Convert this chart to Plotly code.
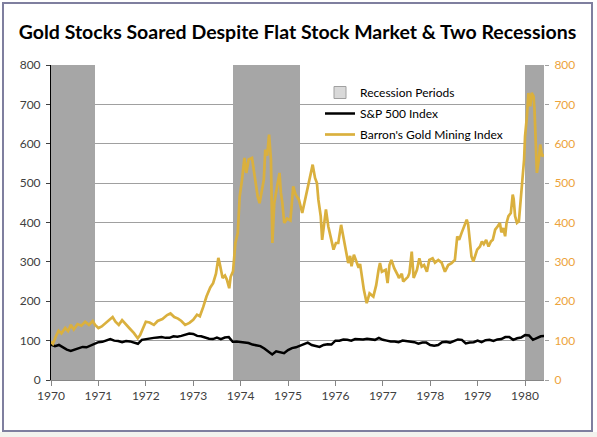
import plotly.graph_objects as go

# ---------------- data ----------------
tick_years = [1970, 1971, 1972, 1973, 1974, 1975, 1976, 1977, 1978, 1979, 1980]

recession_start = [1969.95, 1973.83, 1980.0]
recession_end = [1970.92, 1975.25, 1980.45]

gold_x = [
    1970.00, 1970.04, 1970.10, 1970.16, 1970.22, 1970.30, 1970.36, 1970.42, 1970.48, 1970.56,
    1970.64, 1970.72, 1970.80, 1970.88, 1970.93, 1971.00, 1971.07, 1971.15, 1971.23, 1971.30,
    1971.36, 1971.43, 1971.50, 1971.56, 1971.65, 1971.75, 1971.83, 1971.88, 1971.93, 1972.00,
    1972.08, 1972.17, 1972.25, 1972.35, 1972.45, 1972.52, 1972.60, 1972.68, 1972.75, 1972.83,
    1972.92, 1973.00, 1973.08, 1973.14, 1973.21, 1973.28, 1973.36, 1973.42, 1973.48, 1973.53,
    1973.56, 1973.62, 1973.67, 1973.71, 1973.76, 1973.79, 1973.84, 1973.89, 1973.94, 1973.98,
    1974.03, 1974.08, 1974.12, 1974.17, 1974.24, 1974.29, 1974.36, 1974.40, 1974.45, 1974.49,
    1974.52, 1974.56, 1974.60, 1974.64, 1974.67, 1974.71, 1974.77, 1974.82, 1974.85, 1974.88,
    1974.92, 1974.98, 1975.05, 1975.11, 1975.16, 1975.23, 1975.30, 1975.37, 1975.46, 1975.52,
    1975.57, 1975.61, 1975.64, 1975.69, 1975.72, 1975.76, 1975.80, 1975.85, 1975.90, 1975.96,
    1976.01, 1976.06, 1976.12, 1976.17, 1976.22, 1976.27, 1976.31, 1976.34, 1976.39, 1976.45,
    1976.49, 1976.52, 1976.56, 1976.60, 1976.66, 1976.72, 1976.80, 1976.86, 1976.91, 1976.94,
    1976.98, 1977.06, 1977.10, 1977.14, 1977.18, 1977.24, 1977.32, 1977.34, 1977.40, 1977.43,
    1977.53, 1977.56, 1977.61, 1977.65, 1977.72, 1977.77, 1977.82, 1977.87, 1977.93, 1977.98,
    1978.05, 1978.10, 1978.17, 1978.24, 1978.31, 1978.38, 1978.45, 1978.52, 1978.57, 1978.61,
    1978.66, 1978.71, 1978.77, 1978.80, 1978.84, 1978.87, 1978.91, 1978.95, 1978.99, 1979.05,
    1979.09, 1979.13, 1979.18, 1979.23, 1979.28, 1979.32, 1979.37, 1979.42, 1979.47, 1979.50,
    1979.54, 1979.58, 1979.61, 1979.65, 1979.70, 1979.74, 1979.76, 1979.79, 1979.83, 1979.87,
    1979.91, 1979.95, 1979.98, 1980.00, 1980.04, 1980.07, 1980.11, 1980.14, 1980.18, 1980.20,
    1980.23, 1980.25, 1980.29, 1980.32, 1980.36, 1980.40,
]
gold_values = [
    97, 92, 110, 125, 118, 132, 124, 140, 128, 142,
    138, 148, 140, 150, 140, 132, 136, 145, 152, 160,
    148, 140, 152, 145, 132, 119, 106, 114, 130, 148,
    146, 140, 150, 155, 165, 169, 160, 156, 150, 140,
    145, 153, 166, 162, 185, 212, 235, 246, 270, 310,
    295, 259, 265, 255, 233, 262, 276, 348, 373, 466,
    509, 564, 526, 560, 564, 517, 466, 449, 479, 509,
    585, 570, 623, 560, 348, 449, 492, 526, 475, 450,
    399, 410, 405, 492, 471, 458, 424, 466, 517, 547,
    513, 500, 458, 416, 356, 390, 433, 390, 365, 331,
    348, 348, 394, 360, 331, 297, 315, 289, 318, 297,
    285, 295, 262, 229, 195, 220, 212, 241, 280, 297,
    275, 280, 246, 292, 305, 284, 265, 259, 270, 250,
    262, 271, 326, 259, 280, 309, 288, 292, 275, 305,
    309, 298, 305, 298, 275, 292, 297, 305, 365, 356,
    373, 390, 407, 395, 339, 314, 301, 314, 331, 339,
    352, 345, 356, 339, 352, 356, 382, 390, 399, 375,
    386, 365, 399, 416, 424, 471, 460, 416, 399, 403,
    458, 500, 560, 619, 670, 729, 695, 729, 720, 686,
    610, 526, 560, 598, 568, 573,
]

# S&P 500, monthly from Jan 1970
sp500_values = [
    90, 86, 89, 82, 77, 74, 78, 81, 84, 83, 87, 92,
    96, 97, 100, 104, 100, 99, 96, 99, 98, 94, 92, 102,
    104, 106, 107, 108, 109, 107, 107, 111, 110, 112, 116, 118,
    117, 112, 111, 107, 105, 104, 108, 104, 108, 109, 97, 98,
    97, 96, 94, 90, 87, 86, 80, 73, 65, 73, 70, 68,
    76, 81, 83, 87, 91, 95, 89, 87, 84, 89, 91, 90,
    100, 100, 103, 102, 100, 104, 103, 103, 105, 103, 102, 107,
    102, 100, 98, 98, 96, 100, 99, 97, 96, 92, 95, 95,
    89, 87, 89, 96, 97, 95, 100, 103, 102, 93, 95, 96,
    100, 96, 101, 102, 99, 103, 104, 109, 109, 102, 106, 108,
    114, 113, 102, 106, 111, 112,
]
sp500_x = [1970 + i / 12 for i in range(len(sp500_values))]

# ---------------- styling ----------------
W, H = 597, 437
L, R, T, B = 51, 544, 65, 380  # plot area in pixels
GOLD = "#DAB03E"
ORANGE = "#EDA33B"
GRAY_BAND = "#A6A6A6"
FONT = "Lato"

fig = go.Figure()

fig.add_trace(go.Bar(
    x=[(s + e) / 2 for s, e in zip(recession_start, recession_end)],
    y=[800] * len(recession_start),
    width=[e - s for s, e in zip(recession_start, recession_end)],
    marker=dict(color=GRAY_BAND, line=dict(width=0)),
    showlegend=False, hoverinfo="skip", yaxis="y",
))
fig.add_trace(go.Bar(
    x=[None], y=[None], name="Recession Periods",
    marker=dict(color="#D9D9D9", line=dict(color="#A0A0A0", width=1)),
    legendgroup="a",
))
fig.add_trace(go.Scatter(
    x=sp500_x, y=sp500_values, mode="lines", name="S&P 500 Index",
    line=dict(color="black", width=2.5), legendgroup="b", yaxis="y",
))
fig.add_trace(go.Scatter(
    x=gold_x, y=gold_values, mode="lines", name="Barron's Gold Mining Index",
    line=dict(color=GOLD, width=2.7), legendgroup="c", yaxis="y2",
))

pw, ph = R - L, B - T
def px(x):
    return (x - L) / pw
def py(y):
    return (B - y) / ph

fig.update_layout(
    width=W, height=H,
    margin=dict(l=L, r=W - R, t=T, b=H - B, pad=0),
    paper_bgcolor="white", plot_bgcolor="white",
    bargap=0,
    title=dict(
        text="<b>Gold Stocks Soared Despite Flat Stock Market &amp; Two Recessions</b>",
        x=0.5, xanchor="center", xref="paper",
        y=1 - 32 / H, yanchor="middle",
        font=dict(family=FONT, size=19.5, color="black"),
    ),
    font=dict(family=FONT, size=12, color="#404040"),
    xaxis=dict(
        range=[1970, 1980.4], tickvals=tick_years, tickformat="d",
        showgrid=False, zeroline=False,
        showline=True, linecolor="#868686", linewidth=1,
        ticks="outside", ticklen=5, tickcolor="#868686",
        tickfont=dict(family=FONT, size=12, color="#404040"),
    ),
    yaxis=dict(
        range=[0, 800], dtick=100,
        showgrid=True, gridcolor="#A0A0A0", gridwidth=1,
        zeroline=False, showline=True, linecolor="black", linewidth=1,
        ticks="outside", ticklen=4, tickcolor="#404040",
        ticklabelstandoff=3,
        tickfont=dict(family=FONT, size=12, color="#404040"),
    ),
    yaxis2=dict(
        range=[0, 800], dtick=100, overlaying="y", side="right",
        showgrid=False, zeroline=False, showline=False,
        ticks="outside", ticklen=4, tickcolor="#A0A0A0",
        ticklabelstandoff=3,
        tickfont=dict(family=FONT, size=12, color=ORANGE),
    ),
    legend=dict(
        x=px(320), y=py(78), xanchor="left", yanchor="top",
        bgcolor="rgba(0,0,0,0)", borderwidth=0,
        traceorder="grouped", tracegroupgap=2,
        font=dict(family=FONT, size=12, color="black"),
        itemwidth=30,
    ),
    shapes=[
        dict(type="rect", xref="paper", yref="paper",
             x0=px(0), x1=px(W), y0=py(H), y1=py(432),
             fillcolor="#F3F3EE", line=dict(width=0), layer="below"),
        dict(type="rect", xref="paper", yref="paper",
             x0=px(3), x1=px(592), y0=py(431), y1=py(3),
             line=dict(color="#7F7F9F", width=2), fillcolor="rgba(0,0,0,0)"),
    ],
)

fig.write_html(
    "out.html",
    config={"displayModeBar": False},
    post_script="document.body.style.margin='0';document.body.style.overflow='hidden';",
)
